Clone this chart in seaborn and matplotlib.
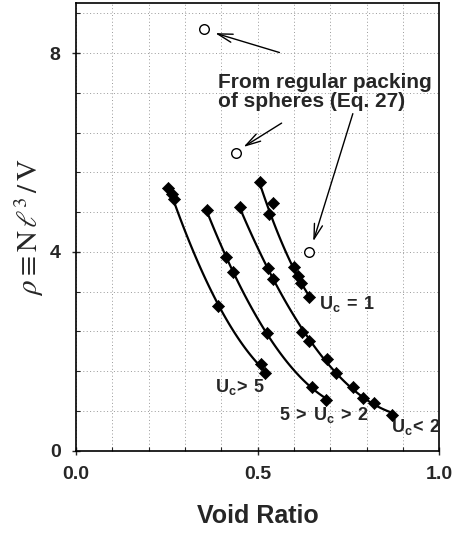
import numpy as np
import pandas as pd
import matplotlib
matplotlib.use("Agg")
import matplotlib.pyplot as plt
import seaborn as sns

# series: void ratio (x) and rho (y)
uc1_x = [0.506, 0.532, 0.599, 0.612, 0.618, 0.641]
uc1_y = [5.41, 4.76, 3.70, 3.52, 3.38, 3.10]
uc1_extra_x = [0.541]          # point off the fitted curve
uc1_extra_y = [4.99]

uclt2_x = [0.451, 0.529, 0.541, 0.621, 0.641, 0.692, 0.716, 0.762, 0.789, 0.821, 0.869]
uclt2_y = [4.91, 3.67, 3.45, 2.39, 2.21, 1.84, 1.57, 1.29, 1.07, 0.95, 0.72]

uc25_x = [0.360, 0.413, 0.431, 0.525, 0.649, 0.688]
uc25_y = [4.84, 3.89, 3.60, 2.37, 1.29, 1.03]

ucgt5_x = [0.254, 0.263, 0.270, 0.392, 0.508, 0.520]
ucgt5_y = [5.28, 5.16, 5.06, 2.91, 1.74, 1.57]

# regular packing of spheres (Eq. 27)
packing_x = [0.352, 0.440, 0.641]
packing_y = [8.49, 5.98, 4.00]

sns.set_theme(style="white")
plt.rcParams['font.family'] = ['Liberation Sans', 'DejaVu Sans']
plt.rcParams['mathtext.fontset'] = 'custom'
plt.rcParams['mathtext.rm'] = 'Liberation Sans:bold'
plt.rcParams['mathtext.it'] = 'Liberation Sans:bold'
plt.rcParams['mathtext.bf'] = 'Liberation Sans:bold'

fig = plt.figure(figsize=(4.55, 5.33), dpi=100)
ax = fig.add_axes([0.167, 0.1544, 0.7985, 0.8394])

series = [(ucgt5_x, ucgt5_y), (uc25_x, uc25_y), (uclt2_x, uclt2_y), (uc1_x, uc1_y)]
for xs, ys in series:
    df = pd.DataFrame({'e': xs, 'rho': ys})
    sns.regplot(data=df, x='e', y='rho', order=2, ci=None, scatter=False,
                line_kws={'color': 'black', 'lw': 1.6}, ax=ax)
    sns.scatterplot(data=df, x='e', y='rho', marker='D', s=38, color='black',
                    edgecolor='black', linewidth=0.5, ax=ax, zorder=4)

sns.scatterplot(x=uc1_extra_x, y=uc1_extra_y, marker='D', s=38, color='black',
                edgecolor='black', linewidth=0.5, ax=ax, zorder=4)
sns.scatterplot(x=packing_x, y=packing_y, marker='o', s=48, facecolor='white',
                edgecolor='black', linewidth=1.0, ax=ax, zorder=4)

ax.set_xlim(0, 1.0)
ax.set_ylim(0, 9)
ax.set_xticks([0.0, 0.5, 1.0])
ax.set_xticklabels(['0.0', '0.5', '1.0'])
ax.set_yticks([0, 4, 8])
ax.set_xticks(np.arange(0.1, 1.0, 0.1), minor=True)
ax.set_yticks(np.arange(0.8, 9.0, 0.8), minor=True)
ax.grid(which='both', color='#999999', linestyle=(0, (1, 2.5)), linewidth=0.7)
ax.tick_params(which='major', direction='inout', length=6, width=1, labelsize=14,
               bottom=True, left=True, pad=8)
ax.tick_params(which='minor', direction='in', length=3, width=0.8, bottom=True, left=True)
for lab in ax.get_xticklabels() + ax.get_yticklabels():
    lab.set_fontweight('bold')
for sp in ax.spines.values():
    sp.set_color('black')
    sp.set_linewidth(1.2)

ax.set_xlabel('Void Ratio', fontsize=18, fontweight='bold', labelpad=15)
ax.set_ylabel(r'$\rho \equiv \mathrm{N}\,\ell^3\,/\,\mathrm{V}$', fontsize=21,
              math_fontfamily='stix', labelpad=3)

ax.text(0.39, 7.22, 'From regular packing\nof spheres (Eq. 27)', fontsize=15,
        fontweight='bold', ha='left', va='center', linespacing=1.0)

arrow = dict(arrowstyle='->,head_length=0.9,head_width=0.25', color='black', lw=1.0,
             shrinkA=0, shrinkB=0)
ax.annotate('', xy=(0.383, 8.40), xytext=(0.560, 8.01), arrowprops=arrow)
ax.annotate('', xy=(0.461, 6.11), xytext=(0.566, 6.59), arrowprops=arrow)
ax.annotate('', xy=(0.653, 4.21), xytext=(0.762, 6.78), arrowprops=arrow)

lab_kw = dict(fontsize=13, ha='left', va='center')
ax.text(0.668, 2.95, r'$\mathrm{U_c\:=\:1}$', **lab_kw)
ax.text(0.383, 1.28, r'$\mathrm{U_c\!>\:5}$', **lab_kw)
ax.text(0.558, 0.72, r'$\mathrm{5\:>\:U_c\:>\:2}$', **lab_kw)
ax.text(0.866, 0.48, r'$\mathrm{U_c\!<\:2}$', **lab_kw)

fig.savefig('out.png', dpi=100)
